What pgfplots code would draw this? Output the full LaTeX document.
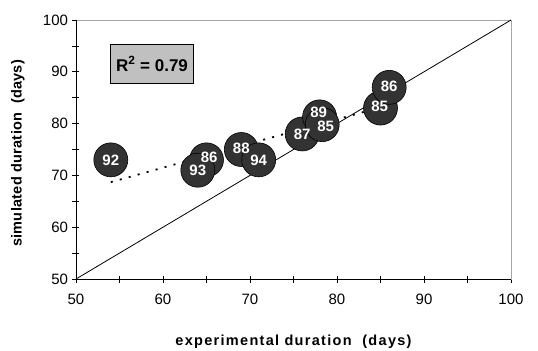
\documentclass[border=0pt]{standalone}
\usepackage{fontspec}
\setmainfont{Liberation Sans}
\usepackage{pgfplots}
\pgfplotsset{compat=1.18}
\definecolor{circfill}{HTML}{333333}
\definecolor{boxfill}{HTML}{C0C0C0}
\begin{document}
\begin{tikzpicture}
\useasboundingbox (-76bp,-72bp) rectangle (462bp,279bp);
\begin{axis}[
  at={(0,0)}, anchor=south west,
  scale only axis, width=435bp, height=259bp,
  xmin=50, xmax=100, ymin=50, ymax=100,
  xtick={50,60,...,100}, ytick={50,60,...,100},
  minor tick num=1,
  tick align=center,
  major tick length=7bp, minor tick length=7bp,
  xtick pos=bottom, ytick pos=left,
  tick style={black, line width=0.8bp},
  axis line style={draw=gray!70, line width=0.8bp},
  /pgf/number format/assume math mode=true,
  ticklabel style={font=\fontsize{15bp}{17bp}\selectfont},
  xticklabel style={yshift=-8bp},
  yticklabel style={xshift=-1bp},
  xlabel={experimental duration\ \ (days)},
  ylabel={simulated duration\ \ (days)},
  xlabel style={font=\bfseries\fontsize{14.5bp}{16bp}\selectfont\addfontfeatures{LetterSpace=9},
    at={(axis description cs:0.5,0)}, anchor=center, yshift=-63bp},
  ylabel style={font=\bfseries\fontsize{14.5bp}{16bp}\selectfont\addfontfeatures{LetterSpace=2},
    at={(axis description cs:0,0.485)}, anchor=center, yshift=58bp},
  clip=false,
]
% axes lines in black
\draw[black, line width=0.9bp] (rel axis cs:0,1) -- (rel axis cs:0,0) -- (rel axis cs:1,0);
% data circles
\addplot[only marks, mark=*, mark size=17bp,
  mark options={fill=circfill, draw=black, line width=0.6bp}]
  table {
  x y
  54 73
  65 73
  64 71
  69 75
  71 73
  76 78
  78 81.3
  78.3 79.8
  85 83
  86 87
};
% 1:1 line
\addplot[black, line width=0.8bp] coordinates {(50,50) (100,100)};
% linear trend
\addplot[black, line width=1.8bp, dash pattern=on 2bp off 7.3bp] coordinates {(54,68.7) (83.4,82.4)};
% labels on top
\addplot[only marks, mark=none,
  nodes near coords, point meta=explicit symbolic,
  every node near coord/.append style={anchor=center, text=white,
    font=\bfseries\fontsize{15bp}{17bp}\selectfont}]
  table[meta=lab] {
  x y lab
  54 73 92
  65.3 73.5 86
  64 71 93
  69 75.3 88
  71 73 94
  76 78 87
  77.9 82.2 89
  78.7 79.5 85
  84.9 83.3 85
  86 87.2 86
};
% R^2 box
\node[draw=black, fill=boxfill, line width=0.8bp, minimum width=82.6bp, minimum height=39bp,
  font=\bfseries\fontsize{17bp}{19bp}\selectfont] at (axis cs:58.74,91.5) {R\textsuperscript{2} = 0.79};
\end{axis}
\end{tikzpicture}
\end{document}
